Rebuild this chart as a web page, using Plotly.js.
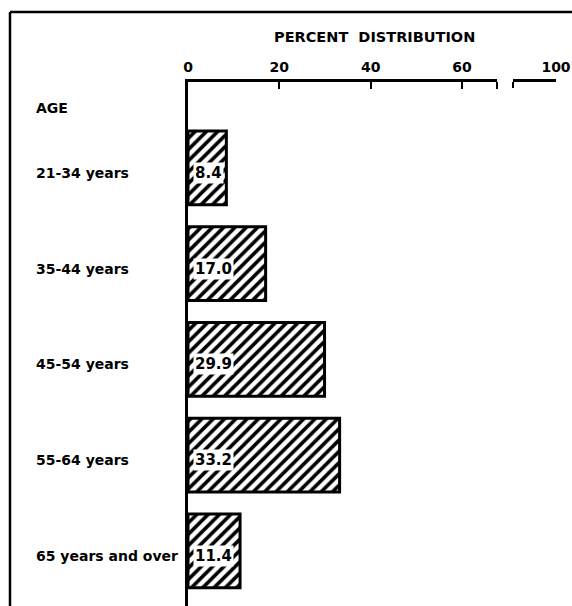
<!DOCTYPE html>
<html>
<head>
<meta charset="utf-8">
<script src="https://cdn.plot.ly/plotly-3.0.1.min.js"></script>
<style>
  html, body { margin: 0; padding: 0; background: #fff; }
  #chart { width: 572px; height: 606px; }
</style>
</head>
<body>
<div id="chart"></div>
<script>
// ---- data ----
const ageGroups = ["21-34 years", "35-44 years", "45-54 years", "55-64 years", "65 years and over"];
const percentValues = [8.4, 17.0, 29.9, 33.2, 11.4];
const mainTickVals = [0, 20, 40, 60];
const mainTickText = ["0", "20", "40", "60"];
const breakTickVals = [100];
const breakTickText = ["100"];
const axisTitle = "PERCENT\u00a0\u00a0DISTRIBUTION";
const groupTitle = "AGE";

// ---- layout geometry (pixels) ----
const W = 572, H = 606;
const M = { l: 188, r: 16, t: 82, b: 0 };
const PW = W - M.l - M.r, PH = H - M.t - M.b;
const px = x => (x - M.l) / PW;          // pixel -> paper x
const py = y => 1 - (y - M.t) / PH;      // pixel -> paper y

const FONT = "DejaVu Sans, Liberation Sans, Arial, sans-serif";
const boldFont = (size) => ({ family: FONT, size: size, color: "black", weight: "bold" });

const mainEnd = 497, breakStart = 513, breakEnd = 556;
const unit = (462 - 188) / 60;          // px per percent

const traces = [
  {
    type: "bar",
    orientation: "h",
    x: percentValues,
    y: ageGroups,
    width: 0.77,
    marker: {
      color: "white",
      line: { color: "black", width: 3 },
      pattern: { shape: "/", fgcolor: "black", bgcolor: "white", fgopacity: 1, fillmode: "overlay", size: 8, solidity: 0.45 }
    },
    hoverinfo: "skip",
    showlegend: false,
    cliponaxis: false
  },
  {
    type: "scatter", mode: "markers", x: [], y: [], xaxis: "x2", yaxis: "y",
    showlegend: false, hoverinfo: "skip"
  }
];

const annotations = [];
// category labels (left aligned)
ageGroups.forEach((g) => {
  annotations.push({
    xref: "paper", yref: "y", x: px(34), y: g, xanchor: "left", yanchor: "middle",
    yshift: -5, text: g, showarrow: false, font: boldFont(14)
  });
});
// value labels inside the bars
percentValues.forEach((v, i) => {
  annotations.push({
    xref: "x", yref: "y", x: 0, y: ageGroups[i], xanchor: "left", yanchor: "middle",
    xshift: 5, yshift: -5, text: v.toFixed(1), showarrow: false,
    font: boldFont(15), bgcolor: "white", borderpad: 1
  });
});
// axis title
annotations.push({
  xref: "paper", yref: "paper", x: px(374), y: py(37), xanchor: "center", yanchor: "middle",
  text: axisTitle, showarrow: false, font: boldFont(14.5)
});
// group title
annotations.push({
  xref: "paper", yref: "paper", x: px(34), y: py(108), xanchor: "left", yanchor: "middle",
  text: groupTitle, showarrow: false, font: boldFont(14)
});

const shapes = [
  // outer frame: left and top
  { type: "line", xref: "paper", yref: "paper", x0: px(10), x1: px(10), y0: py(12), y1: py(606), line: { color: "black", width: 2.5 } },
  { type: "line", xref: "paper", yref: "paper", x0: px(10), x1: px(572), y0: py(12), y1: py(12), line: { color: "black", width: 2.5 } },
  // hooks at the break of the axis
  { type: "line", xref: "x domain", yref: "paper", x0: 1, x1: 1, y0: 1, y1: py(89), line: { color: "black", width: 2 } },
  { type: "line", xref: "x2 domain", yref: "paper", x0: 0, x1: 0, y0: 1, y1: py(88), line: { color: "black", width: 2 } }
];

const layout = {
  width: W, height: H,
  margin: M,
  paper_bgcolor: "white", plot_bgcolor: "white",
  showlegend: false,
  xaxis: {
    domain: [0, px(mainEnd)],
    range: [0, (mainEnd - M.l) / unit],
    side: "top", anchor: "y",
    tickmode: "array", tickvals: mainTickVals, ticktext: mainTickText,
    ticks: "inside", ticklen: 7, tickwidth: 2, tickcolor: "black",
    ticklabelstandoff: 1,
    showline: true, linecolor: "black", linewidth: 3,
    showgrid: false, zeroline: false, automargin: false,
    tickfont: boldFont(14), fixedrange: true
  },
  xaxis2: {
    domain: [px(breakStart), 1],
    range: [100 - (breakEnd - breakStart) / unit, 100],
    side: "top", anchor: "y",
    tickmode: "array", tickvals: breakTickVals, ticktext: breakTickText,
    ticks: "inside", ticklen: 7, tickwidth: 2, tickcolor: "black",
    ticklabelstandoff: 1,
    showline: true, linecolor: "black", linewidth: 3,
    showgrid: false, zeroline: false, automargin: false,
    tickfont: boldFont(14), fixedrange: true
  },
  yaxis: {
    type: "category",
    categoryorder: "array", categoryarray: ageGroups,
    range: [4.575, -0.898],
    showticklabels: false, ticks: "",
    showline: true, linecolor: "black", linewidth: 3,
    showgrid: false, zeroline: false, automargin: false, fixedrange: true
  },
  annotations: annotations,
  shapes: shapes,
  bargap: 0.23
};

Plotly.newPlot("chart", traces, layout, { displayModeBar: false, staticPlot: true });
</script>
</body>
</html>
